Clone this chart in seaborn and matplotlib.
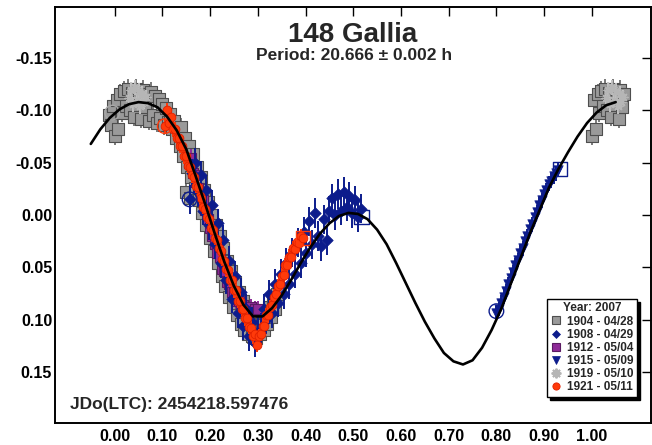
import numpy as np
import matplotlib
matplotlib.use("Agg")
import matplotlib.pyplot as plt
from matplotlib.lines import Line2D
import seaborn as sns

# ---- Fourier fit of the lightcurve (sampled) ----
fit_phase = [-0.05, -0.03, -0.01, 0.01, 0.03, 0.05, 0.07, 0.09, 0.11, 0.13,
             0.15, 0.17, 0.19, 0.21, 0.23, 0.25, 0.27, 0.29, 0.31, 0.33,
             0.35, 0.37, 0.39, 0.41, 0.43, 0.45, 0.47, 0.49, 0.51, 0.53,
             0.55, 0.57, 0.59, 0.61, 0.63, 0.65, 0.67, 0.69, 0.71, 0.73,
             0.75, 0.77, 0.79, 0.81, 0.83, 0.85, 0.87, 0.89, 0.91, 0.93,
             0.95, 0.97, 0.99, 1.01, 1.03, 1.05]
fit_mag = [-0.068, -0.082, -0.093, -0.101, -0.106, -0.108, -0.107, -0.103, -0.094, -0.081,
           -0.063, -0.037, -0.010, 0.018, 0.045, 0.068, 0.086, 0.097, 0.097, 0.089,
           0.077, 0.062, 0.046, 0.031, 0.018, 0.008, 0.001, -0.002, -0.001, 0.004,
           0.014, 0.028, 0.046, 0.065, 0.084, 0.102, 0.118, 0.132, 0.140, 0.143,
           0.139, 0.127, 0.110, 0.090, 0.066, 0.042, 0.018, -0.004, -0.026, -0.044,
           -0.060, -0.075, -0.088, -0.098, -0.105, -0.108]

# ---- Session 1904 (2007-04-28) ----
s1904_phase = [-0.012, -0.008, -0.004, 0.000, 0.004, 0.008, 0.012, 0.016, 0.020, 0.024,
               0.028, 0.032, 0.036, 0.040, 0.044, 0.048, 0.052, 0.056, 0.060, 0.064,
               0.068, 0.072, 0.076, 0.080, 0.084, 0.088, 0.092, 0.096, 0.100, 0.104,
               0.108, 0.112, 0.116, 0.120, 0.124, 0.128, 0.132, 0.136, 0.140, 0.144,
               0.148, 0.150, 0.152, 0.156, 0.157, 0.160, 0.164, 0.168, 0.172, 0.176,
               0.180, 0.184, 0.188, 0.192, 0.196, 0.200, 0.204, 0.208, 0.212, 0.216,
               0.220, 0.224, 0.228, 0.232, 0.236, 0.240, 0.244, 0.248, 0.252, 0.256,
               0.260, 0.264, 0.268, 0.272, 0.276, 0.280, 0.284, 0.288, 0.292, 0.296,
               0.300, 0.304, 0.308, 0.312, 0.316, 0.320, 0.324, 0.328, 0.332, 0.336,
               0.340]
s1904_mag = [-0.096, -0.086, -0.104, -0.076, -0.110, -0.082, -0.116, -0.098, -0.119, -0.104,
             -0.121, -0.100, -0.117, -0.094, -0.121, -0.105, -0.117, -0.092, -0.120, -0.103,
             -0.116, -0.090, -0.118, -0.096, -0.114, -0.088, -0.111, -0.093, -0.106, -0.086,
             -0.102, -0.089, -0.097, -0.082, -0.090, -0.074, -0.082, -0.066, -0.084, -0.056,
             -0.074, -0.022, -0.046, -0.066, -0.016, -0.036, -0.058, -0.026, -0.046, -0.014,
             -0.036, -0.002, -0.024, 0.010, -0.012, 0.022, 0.000, 0.034, 0.010, 0.046,
             0.020, 0.058, 0.032, 0.068, 0.044, 0.078, 0.054, 0.088, 0.064, 0.096,
             0.074, 0.104, 0.082, 0.110, 0.090, 0.114, 0.096, 0.116, 0.100, 0.118,
             0.104, 0.114, 0.100, 0.110, 0.094, 0.104, 0.088, 0.098, 0.082, 0.090,
             0.076]

# ---- Session 1908 (2007-04-29) ----
s1908_phase = [0.157, 0.162, 0.168, 0.174, 0.180, 0.186, 0.192, 0.198, 0.204, 0.210,
               0.216, 0.222, 0.228, 0.234, 0.240, 0.246, 0.252, 0.258, 0.264, 0.270,
               0.276, 0.282, 0.288, 0.294, 0.300, 0.306, 0.312, 0.318, 0.324, 0.330,
               0.336, 0.342, 0.348, 0.354, 0.360, 0.366, 0.372, 0.378, 0.384, 0.390,
               0.396, 0.402, 0.408, 0.414, 0.420, 0.426, 0.432, 0.438, 0.444, 0.450,
               0.456, 0.462, 0.468, 0.474, 0.480, 0.486, 0.492, 0.498, 0.504, 0.510,
               0.516]
s1908_mag = [-0.015, -0.040, -0.050, -0.022, -0.038, -0.004, -0.024, 0.010, -0.010, 0.028,
             0.008, 0.046, 0.024, 0.062, 0.044, 0.080, 0.058, 0.094, 0.074, 0.106,
             0.090, 0.116, 0.102, 0.122, 0.112, 0.108, 0.090, 0.100, 0.076, 0.094,
             0.066, 0.084, 0.056, 0.076, 0.046, 0.066, 0.036, 0.056, 0.026, 0.046,
             0.016, 0.036, 0.006, 0.028, -0.002, 0.020, 0.030, 0.004, 0.024, -0.004,
             -0.016, 0.000, -0.020, -0.004, -0.022, -0.008, -0.018, -0.002, -0.014, 0.002,
             -0.006]

# ---- Session 1912 (2007-05-04) ----
s1912_phase = [0.155, 0.160, 0.165, 0.170, 0.175, 0.180, 0.185, 0.190, 0.195, 0.200,
               0.205, 0.210, 0.215, 0.220, 0.225, 0.230, 0.235, 0.240, 0.245, 0.250,
               0.255, 0.260, 0.265, 0.270, 0.275, 0.280, 0.285, 0.290, 0.295, 0.300]
s1912_mag = [-0.050, -0.055, -0.040, -0.038, -0.026, -0.022, -0.014, -0.005, 0.004, 0.012,
             0.020, 0.028, 0.036, 0.040, 0.052, 0.054, 0.064, 0.066, 0.074, 0.075,
             0.082, 0.082, 0.084, 0.086, 0.088, 0.090, 0.088, 0.092, 0.090, 0.090]

# ---- Session 1915 (2007-05-09) ----
s1915_phase = [0.800, 0.805, 0.810, 0.815, 0.820, 0.825, 0.830, 0.835, 0.840, 0.845,
               0.850, 0.855, 0.860, 0.865, 0.870, 0.875, 0.880, 0.885, 0.890, 0.895,
               0.900, 0.905, 0.910, 0.915, 0.920, 0.925, 0.930]
s1915_mag = [0.094, 0.090, 0.084, 0.078, 0.073, 0.066, 0.060, 0.055, 0.048, 0.043,
             0.036, 0.032, 0.025, 0.020, 0.013, 0.009, 0.002, -0.003, -0.010, -0.014,
             -0.020, -0.024, -0.030, -0.033, -0.037, -0.040, -0.043]

# ---- Session 1919 (2007-05-10) ----
s1919_phase = [0.030, 0.034, 0.038, 0.042, 0.046, 0.050, 0.054, 0.058, 0.062, 0.066]
s1919_mag = [-0.112, -0.120, -0.106, -0.122, -0.110, -0.119, -0.104, -0.116, -0.108, -0.113]

# ---- Session 1921 (2007-05-11) ----
s1921_phase = [0.105, 0.110, 0.114, 0.118, 0.122, 0.126, 0.130, 0.134, 0.138, 0.142,
               0.146, 0.150, 0.154, 0.158, 0.162, 0.166, 0.170, 0.174, 0.178, 0.182,
               0.186, 0.190, 0.194, 0.198, 0.202, 0.206, 0.210, 0.214, 0.218, 0.222,
               0.226, 0.230, 0.234, 0.238, 0.242, 0.246, 0.250, 0.254, 0.258, 0.262,
               0.266, 0.270, 0.274, 0.278, 0.282, 0.286, 0.290, 0.294, 0.298, 0.302,
               0.306, 0.310, 0.314, 0.318, 0.322, 0.326, 0.330, 0.334, 0.338, 0.342,
               0.346, 0.350, 0.354, 0.358, 0.362, 0.366, 0.370, 0.374, 0.378, 0.382,
               0.386, 0.390, 0.395]
s1921_mag = [-0.085, -0.100, -0.088, -0.094, -0.082, -0.082, -0.074, -0.074, -0.066, -0.066,
             -0.056, -0.056, -0.047, -0.046, -0.038, -0.036, -0.028, -0.027, -0.018, -0.016,
             -0.008, -0.006, 0.002, 0.004, 0.012, 0.014, 0.022, 0.024, 0.032, 0.034,
             0.042, 0.044, 0.052, 0.053, 0.062, 0.062, 0.072, 0.072, 0.082, 0.082,
             0.090, 0.090, 0.099, 0.099, 0.107, 0.108, 0.116, 0.114, 0.124, 0.116,
             0.114, 0.106, 0.106, 0.096, 0.096, 0.088, 0.086, 0.078, 0.076, 0.068,
             0.066, 0.058, 0.057, 0.048, 0.048, 0.040, 0.040, 0.032, 0.033, 0.026,
             0.027, 0.020, 0.022]

# photometric errors per session (mag)
session_err = [0.009, 0.014, 0.008, 0.007, 0.007, 0.007]

# session start (circle) and end (square) flags
start_phase = [-0.005, 0.105, 0.157, 0.800]
start_mag = [-0.098, -0.085, -0.015, 0.092]
start_color = ["#a8a8a8", "#ff3a0a", "#0c1c8c", "#0c1c8c"]
end_phase = [0.395, 0.517, 0.933]
end_mag = [0.022, 0.002, -0.044]
end_color = ["#ff3a0a", "#0c1c8c", "#0c1c8c"]

labels = ["1904 - 04/28", "1908 - 04/29", "1912 - 05/04",
          "1915 - 05/09", "1919 - 05/10", "1921 - 05/11"]
x_ticks = [0.0, 0.1, 0.2, 0.3, 0.4, 0.5, 0.6, 0.7, 0.8, 0.9, 1.0]
y_ticks = [-0.15, -0.10, -0.05, 0.00, 0.05, 0.10, 0.15]

# ---- styling ----
sns.set_style("white")
plt.rcParams["font.family"] = ["Liberation Sans", "DejaVu Sans"]
plt.rcParams["font.weight"] = "bold"
plt.rcParams["axes.unicode_minus"] = False

fig = plt.figure(figsize=(6.52, 4.45), dpi=100)
ax = fig.add_axes([55 / 652, 22 / 445, 596 / 652, 416 / 445])

styles = [
    # marker, size, face, edge, lw, err colour, zorder, wrap past phase 1
    dict(m="s", s=68, fc="#9a9a9a", ec="#4e4e4e", lw=0.8, ecol="#7a7a7a", z=2, wrap=True),
    dict(m="D", s=34, fc="#0c1c8c", ec="#0c1c8c", lw=0.5, ecol="#0c1c8c", z=4, wrap=False),
    dict(m="s", s=52, fc="#8e2a98", ec="#5a1a62", lw=0.8, ecol="#8e2a98", z=3, wrap=False),
    dict(m="v", s=46, fc="#0c1c8c", ec="#0c1c8c", lw=0.5, ecol="#0c1c8c", z=4, wrap=False),
    dict(m=(8, 2, 0), s=40, fc="#b6b6b6", ec="#b6b6b6", lw=1.0, ecol="#c4c4c4", z=2.3, wrap=True),
    dict(m="o", s=40, fc="#ff3a0a", ec="#e02000", lw=0.6, ecol="#ff3a0a", z=5, wrap=False),
]
phases = [s1904_phase, s1908_phase, s1912_phase, s1915_phase, s1919_phase, s1921_phase]
mags = [s1904_mag, s1908_mag, s1912_mag, s1915_mag, s1919_mag, s1921_mag]

for ph, mg, err, st in zip(phases, mags, session_err, styles):
    x = np.asarray(ph, dtype=float)
    y = np.asarray(mg, dtype=float)
    if st["wrap"]:
        keep = (x >= 0) & (x < 0.07)
        x = np.concatenate([x, x[keep] + 1.0])
        y = np.concatenate([y, y[keep]])
    ax.errorbar(x, y, yerr=err, fmt="none", ecolor=st["ecol"],
                elinewidth=1.4, capsize=0, zorder=st["z"])
    sns.scatterplot(x=x, y=y, marker=st["m"], s=st["s"], color=st["fc"],
                    edgecolor=st["ec"], linewidth=st["lw"], ax=ax,
                    zorder=st["z"] + 0.2, legend=False)

ax.scatter(start_phase, start_mag, s=110, marker="o", facecolors="none",
           edgecolors=start_color, linewidths=1.0, zorder=6)
ax.scatter(end_phase, end_mag, s=110, marker="s", facecolors="none",
           edgecolors=end_color, linewidths=1.0, zorder=6)

sns.lineplot(x=fit_phase, y=fit_mag, sort=False, color="black", linewidth=1.9,
             ax=ax, zorder=7)

# ---- axes ----
ax.set_xlim(-0.125, 1.124)
ax.set_ylim(0.199, -0.199)
ax.set_xticks(x_ticks)
ax.set_xticklabels([f"{v:.2f}" for v in x_ticks])
ax.set_yticks(y_ticks)
ax.set_yticklabels([f"{v:.2f}" for v in y_ticks])
ax.set_xlabel("")
ax.set_ylabel("")
ax.tick_params(direction="in", length=6.5, width=1.0, top=True, right=True,
               labelsize=11.5, colors="black")
ax.tick_params(axis="x", pad=4.5)
ax.tick_params(axis="y", pad=2)
for sp in ax.spines.values():
    sp.set_linewidth(1.4)
    sp.set_color("black")

# ---- legend ----
handles = []
for lab, st in zip(labels, styles):
    ms = {"s": 6.0, "D": 4.3, "v": 6.0, "o": 5.2}.get(st["m"], 7.0)
    handles.append(Line2D([], [], linestyle="none", marker=st["m"], markersize=ms,
                          markerfacecolor=st["fc"], markeredgecolor=st["ec"],
                          markeredgewidth=st["lw"] if st["m"] != (8, 2, 0) else 1.4,
                          color=st["fc"], label=lab))
leg = ax.legend(handles=handles, title="Year: 2007", loc="lower right",
                bbox_to_anchor=(0.9765, 0.0625), borderaxespad=0,
                frameon=True, fancybox=False,
                shadow={"color": "black", "alpha": 1},
                prop={"size": 8.5, "weight": "bold"},
                title_fontproperties={"size": 8.5, "weight": "bold"},
                handlelength=1.0, handletextpad=0.4, labelspacing=0.1,
                borderpad=0.3)
leg.get_frame().set_edgecolor("black")
leg.get_frame().set_linewidth(1.0)
leg.set_zorder(10)

# ---- texts ----
fig.text(353 / 652, 1 - 42 / 445, "148 Gallia", ha="center", va="baseline",
         fontsize=20, fontweight="bold")
fig.text(354 / 652, 1 - 60 / 445, "Period: 20.666 \u00b1 0.002 h", ha="center",
         va="baseline", fontsize=12.5, fontweight="bold")
fig.text(70 / 652, 1 - 409 / 445, "JDo(LTC): 2454218.597476", ha="left",
         va="baseline", fontsize=12.5, fontweight="bold")

fig.savefig("out.png", dpi=100)
